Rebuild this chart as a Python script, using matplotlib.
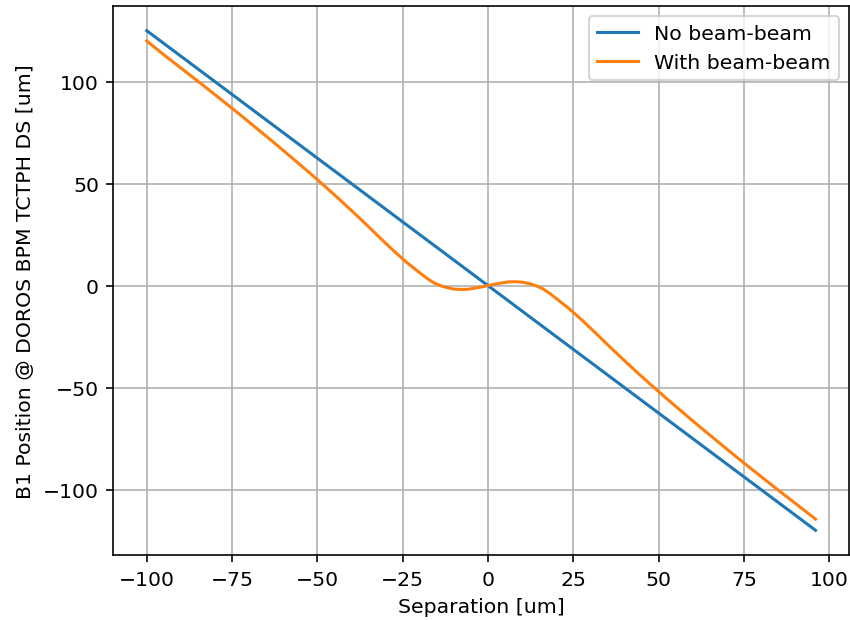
import numpy as np
import matplotlib
matplotlib.use("Agg")
import matplotlib.pyplot as plt

# separation scan [um], finer steps around the head-on point
separation = [-100, -96, -92, -88, -84, -80, -76, -72, -68, -64,
              -60, -56, -52, -48, -44, -40, -36, -32, -28, -24,
              -20, -18, -16, -14, -12, -10, -8, -6, -4, -2,
              0, 2, 4, 6, 8, 10, 12, 14, 16, 18,
              20, 24, 28, 32, 36, 40, 44, 48, 52, 56,
              60, 64, 68, 72, 76, 80, 84, 88, 92, 96]

# B1 position at the DOROS BPM without beam-beam kick
pos_no_bb = [125.0, 120.0, 115.0, 110.0, 105.0, 100.0, 95.0, 90.0, 85.0, 80.0,
             75.0, 70.0, 65.0, 60.0, 55.0, 50.0, 45.0, 40.0, 35.0, 30.0,
             25.0, 22.5, 20.0, 17.5, 15.0, 12.5, 10.0, 7.5, 5.0, 2.5,
             0.0, -2.5, -5.0, -7.5, -10.0, -12.5, -15.0, -17.5, -20.0, -22.5,
             -25.0, -30.0, -35.0, -40.0, -45.0, -50.0, -55.0, -60.0, -65.0, -70.0,
             -75.0, -80.0, -85.0, -90.0, -95.0, -100.0, -105.0, -110.0, -115.0, -120.0]

# B1 position with the beam-beam kick
pos_with_bb = [120.0, 114.5, 109.3, 104.1, 98.9, 93.6, 88.3, 82.9, 77.4, 71.9,
               66.3, 60.6, 54.9, 49.0, 43.0, 36.8, 30.5, 24.0, 17.6, 11.6,
               6.3, 3.7, 1.5, 0.0, -1.0, -1.7, -1.9, -1.8, -1.3, -0.7,
               0.0, 0.7, 1.3, 1.8, 1.9, 1.7, 1.0, 0.0, -1.5, -3.7,
               -6.3, -11.6, -17.6, -24.0, -30.5, -36.8, -43.0, -49.0, -54.9, -60.6,
               -66.3, -71.9, -77.4, -82.9, -88.3, -93.6, -98.9, -104.1, -109.3, -114.5]

dpi = 147
fig = plt.figure(figsize=(850 / dpi, 621 / dpi), dpi=dpi)
ax = fig.add_axes([0.1333, 0.1042, 0.8655, 0.885])

ax.plot(separation, pos_no_bb, label="No beam-beam")
ax.plot(separation, pos_with_bb, label="With beam-beam")
ax.set_xlabel("Separation [um]")
ax.set_ylabel("B1 Position @ DOROS BPM TCTPH DS [um]")
ax.set_xticks(np.arange(-100, 101, 25))
ax.grid(True)
ax.legend(loc="upper right")

fig.savefig("out.png", dpi=dpi)
